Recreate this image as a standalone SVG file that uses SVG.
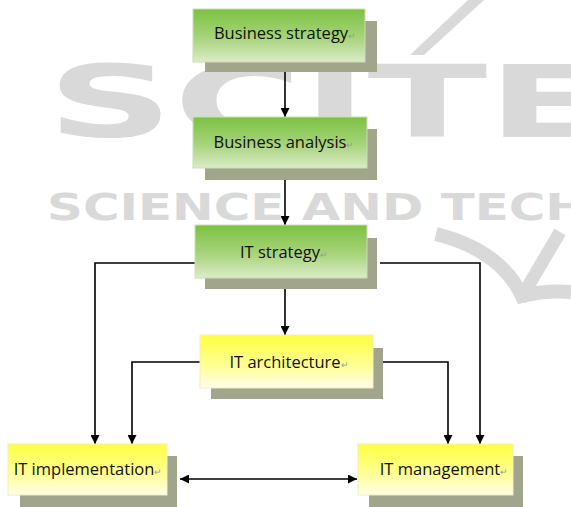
<svg xmlns="http://www.w3.org/2000/svg" width="571" height="507" viewBox="0 0 571 507">
<style>
.wm{font-family:"DejaVu Sans",sans-serif;font-weight:bold;fill:#d9d9d9}
.lbl{font-family:"Open Sans","Liberation Sans",sans-serif;font-size:16.5px;fill:#111;text-anchor:middle}
.rm{fill:#999;font-size:9px}
.sh{fill:#a0a58c}
.g{fill:url(#gg);stroke:#c9dfb0;stroke-width:1}
.y{fill:url(#yg);stroke:#f0f0c0;stroke-width:1}
.c{fill:none;stroke:#000;stroke-width:1.6}
</style>
<defs>
<linearGradient id="gg" x1="0" y1="0" x2="0" y2="1">
<stop offset="0" stop-color="#7cc142"/>
<stop offset="0.55" stop-color="#a8d47c"/>
<stop offset="1" stop-color="#dcebc8"/>
</linearGradient>
<linearGradient id="yg" x1="0" y1="0" x2="0" y2="1">
<stop offset="0" stop-color="#ffff40"/>
<stop offset="0.6" stop-color="#ffff99"/>
<stop offset="1" stop-color="#fffde8"/>
</linearGradient>
<marker id="ah" viewBox="0 0 10 10" refX="10" refY="5" markerWidth="10" markerHeight="9" orient="auto-start-reverse" markerUnits="userSpaceOnUse">
<path d="M0,0 L10,5 L0,10 z" fill="#000"/>
</marker>
</defs>
<rect width="571" height="507" fill="#fff"/>
<g id="watermark">
<text class="wm" x="47" y="137" font-size="99" textLength="560" lengthAdjust="spacingAndGlyphs">SCITE</text>
<polygon points="410,55 424,55 484,0 468,0" fill="#d9d9d9"/>
<text class="wm" x="47" y="220" font-size="37" textLength="540" lengthAdjust="spacingAndGlyphs">SCIENCE AND TECH</text>
<path d="M436,234 Q500,250 522,296 Q545,290 571,292" fill="none" stroke="#d9d9d9" stroke-width="14"/>
<path d="M520,300 L560,232" fill="none" stroke="#d9d9d9" stroke-width="13"/>
</g>
<g id="connectors">
<line class="c" x1="285" y1="72" x2="285" y2="117" marker-end="url(#ah)"/>
<line class="c" x1="285" y1="180" x2="285" y2="225" marker-end="url(#ah)"/>
<line class="c" x1="285" y1="289" x2="285" y2="335" marker-end="url(#ah)"/>
<polyline class="c" points="195,263 95,263 95,444" marker-end="url(#ah)"/>
<polyline class="c" points="380,263 480,263 480,444" marker-end="url(#ah)"/>
<polyline class="c" points="200,362 132,362 132,444" marker-end="url(#ah)"/>
<polyline class="c" points="383,362 448,362 448,444" marker-end="url(#ah)"/>
<line class="c" x1="180" y1="479" x2="357" y2="479" marker-start="url(#ah)" marker-end="url(#ah)"/>
</g>
<g id="business-strategy">
<rect class="sh" x="205" y="21" width="172" height="51"/>
<rect class="g" x="193" y="9" width="172" height="53"/>
<text class="lbl" x="285" y="39">Business strategy<tspan class="rm">↵</tspan></text>
</g>
<g id="business-analysis">
<rect class="sh" x="205" y="129" width="172" height="51"/>
<rect class="g" x="193" y="117" width="174" height="51"/>
<text class="lbl" x="284" y="148">Business analysis<tspan class="rm">↵</tspan></text>
</g>
<g id="it-strategy">
<rect class="sh" x="205" y="238" width="172" height="51"/>
<rect class="g" x="195" y="225" width="172" height="53"/>
<text class="lbl" x="284" y="258">IT strategy<tspan class="rm">↵</tspan></text>
</g>
<g id="it-architecture">
<rect class="sh" x="211" y="348" width="172" height="51"/>
<rect class="y" x="200" y="335" width="173" height="53"/>
<text class="lbl" x="289" y="368">IT architecture<tspan class="rm">↵</tspan></text>
</g>
<g id="it-implementation">
<rect class="sh" x="20" y="456" width="157" height="51"/>
<rect class="y" x="8" y="444" width="159" height="51"/>
<text class="lbl" x="88" y="475">IT implementation<tspan class="rm">↵</tspan></text>
</g>
<g id="it-management">
<rect class="sh" x="369" y="456" width="154" height="51"/>
<rect class="y" x="358" y="444" width="155" height="51"/>
<text class="lbl" x="444" y="475">IT management<tspan class="rm">↵</tspan></text>
</g>
</svg>
